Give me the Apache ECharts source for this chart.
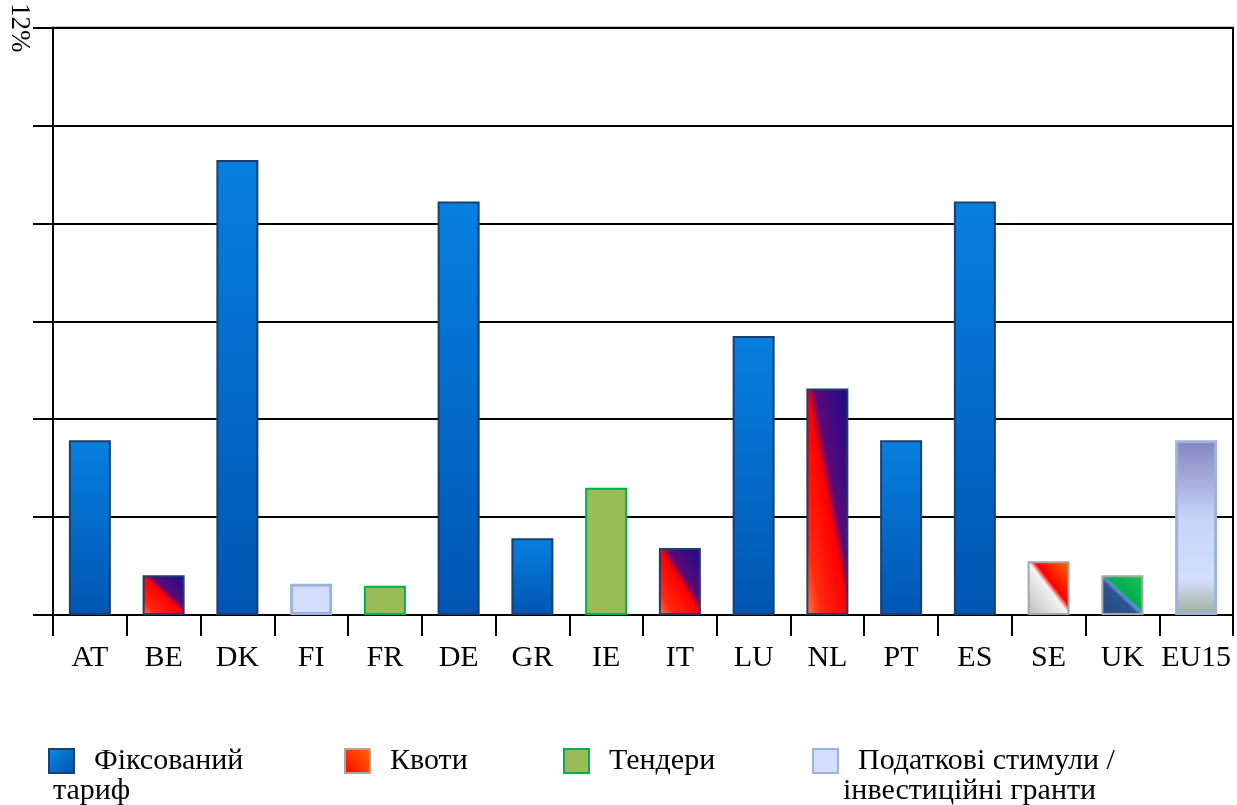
<!DOCTYPE html>
<html>
<head>
<meta charset="utf-8">
<script src="https://cdn.jsdelivr.net/npm/echarts@6/dist/echarts.min.js"></script>
<style>
html,body{margin:0;padding:0;background:#fff;}
#chart{width:1237px;height:805px;}
</style>
</head>
<body>
<div id="chart"></div>
<script>
// ---- data ----
const categories = ['AT','BE','DK','FI','FR','DE','GR','IE','IT','LU','NL','PT','ES','SE','UK','EU15'];
const values     = [3.57, 0.81, 9.3, 0.64, 0.6, 8.45, 1.57, 2.6, 1.37, 5.7, 4.63, 3.57, 8.45, 1.1, 0.81, 3.57];
const policyType = ['fit','quota','fit','tax','tender','fit','fit','tender','quota','fit','quota','fit','fit','quota','quota','tax'];
const seriesKeys  = ['fit','quota','tender','tax'];
const seriesNames = ['Фіксований тариф','Квоти','Тендери','Податкові стимули / інвестиційні гранти'];
const yMax = 12, yStep = 2;

const G = echarts.graphic.LinearGradient;
const FONT = '"Liberation Serif","Times New Roman",serif';
const BAR_W = 42;

// diagonal gradient (top-right -> bottom-left) whose mid isoline runs corner to corner
function diag(stops, w, h) {
  const d = w * w + h * h;
  const ax = h * h / d, ay = w * w / d;
  return new G(0.5 + ax, 0.5 - ay, 0.5 - ax, 0.5 + ay, stops);
}
const quotaStops = [{offset:0,color:'#1a0a8c'},{offset:0.4,color:'#5a0a78'},{offset:0.5,color:'#ff0000'},{offset:0.82,color:'#ff2a10'},{offset:1,color:'#ff8048'}];
const seStops = [{offset:0,color:'#ff7000'},{offset:0.42,color:'#ff0000'},{offset:0.5,color:'#f2f2f2'},{offset:1,color:'#bdbdbd'}];
const ukStops = [{offset:0,color:'#20c050'},{offset:0.44,color:'#00b050'},{offset:0.5,color:'#5a90d0'},{offset:0.56,color:'#2c5490'},{offset:1,color:'#2a4a80'}];

const baseStyle = {
  fit:    {color: new G(0,0,0,1,[{offset:0,color:'#0680e0'},{offset:1,color:'#0055b2'}]), borderColor:'#1b3f6e', borderWidth:2},
  quota:  {color: new G(1,0,0,1,quotaStops), borderColor:'#1b3f6e', borderWidth:2},
  tender: {color:'#9bbb59', borderColor:'#00b050', borderWidth:2},
  tax:    {color:'#d4defc', borderColor:'#9ab4dc', borderWidth:3}
};
const legendStyle = {
  fit:    {color: new G(0,0,1,1,[{offset:0,color:'#0a8ce8'},{offset:1,color:'#0050a8'}]), borderColor:'#1b3f6e', borderWidth:2},
  quota:  {color: new G(1,0,0,1,[{offset:0,color:'#ff7000'},{offset:1,color:'#ff0000'}]), borderColor:'#a6a6a6', borderWidth:2},
  tender: {color:'#9bbb59', borderColor:'#00b050', borderWidth:2},
  tax:    {color:'#d4defc', borderColor:'#9ab4dc', borderWidth:2}
};

function catStyle(cat, h) {
  switch (cat) {
    case 'SE':   return {color: diag(seStops, BAR_W, h), borderColor:'#a6a6a6', borderWidth:2};
    case 'UK':   return {color: diag(ukStops, BAR_W, h), borderColor:'#a6a6a6', borderWidth:2};
    case 'EU15': return {color: new G(0,0,0,1,[{offset:0,color:'#8484c0'},{offset:0.45,color:'#c8d4f8'},{offset:0.8,color:'#d4defc'},{offset:1,color:'#9eae9a'}]), borderColor:'#9ab4dc', borderWidth:3};
    case 'BE': case 'IT': case 'NL':
      return {color: diag(quotaStops, BAR_W, h), borderColor:'#1b3f6e', borderWidth:2};
  }
  return null;
}

function buildSeries(heightOf) {
  return seriesKeys.map((k, si) => ({
    name: seriesNames[si],
    type: 'bar',
    stack: 'all',
    barWidth: BAR_W,
    itemStyle: baseStyle[k],
    data: values.map((v, i) => {
      if (policyType[i] !== k) return '-';
      const st = catStyle(categories[i], heightOf(v));
      return st ? {value: v, itemStyle: st} : v;
    })
  }));
}

const legendPos = [{left:48, top:746, text:'  Фіксований'}, {left:344, top:746, text:'  Квоти'}, {left:563, top:746, text:'  Тендери'}, {left:812, top:746, text:'  Податкові стимули /'}];
const legends = seriesKeys.map((k, si) => ({
  left: legendPos[si].left, top: legendPos[si].top, padding: 0,
  itemWidth: 25, itemHeight: 24, icon: 'rect',
  selectedMode: false,
  data: [{name: seriesNames[si], itemStyle: legendStyle[k]}],
  formatter: () => legendPos[si].text,
  textStyle: {fontFamily: FONT, fontSize: 30, color: '#000'}
}));

const chart = echarts.init(document.getElementById('chart'), null, {renderer:'canvas'});
chart.setOption({
  animation: false,
  backgroundColor: '#fff',
  grid: {left: 53, right: 4, top: 27, bottom: 190, show: true, borderColor: '#000', borderWidth: 2, backgroundColor: 'transparent'},
  legend: legends,
  xAxis: {
    type: 'category', data: categories,
    axisLine: {lineStyle: {color:'#000', width:2}},
    axisTick: {show:true, interval: 0, length: 21, lineStyle:{color:'#000', width:2}},
    axisLabel: {interval: 0, margin: 28, fontFamily: FONT, fontSize: 30, color:'#000'}
  },
  yAxis: {
    type: 'value', min: 0, max: yMax, interval: yStep,
    axisLine: {show:true, lineStyle:{color:'#000', width:2}},
    axisTick: {show:true, length: 20, lineStyle:{color:'#000', width:2}},
    splitLine: {lineStyle:{color:'#000', width:2}},
    axisLabel: {formatter: v => v === yMax ? v + '%' : '', rotate: -90, margin: 20, fontFamily: FONT, fontSize: 27, color:'#000'}
  },
  graphic: [
    {type:'text', left: 53, top: 776, style:{text:'тариф', font: '30px ' + FONT, fill:'#000'}},
    {type:'text', left: 843, top: 776, style:{text:'інвестиційні гранти', font: '30px ' + FONT, fill:'#000'}}
  ],
  series: buildSeries(() => BAR_W)
});
// recompute diagonal gradients from the actual pixel heights given by the value axis
const base = chart.convertToPixel({yAxisIndex: 0}, 0);
chart.setOption({series: buildSeries(v => Math.max(1, base - chart.convertToPixel({yAxisIndex: 0}, v)))});
</script>
</body>
</html>
